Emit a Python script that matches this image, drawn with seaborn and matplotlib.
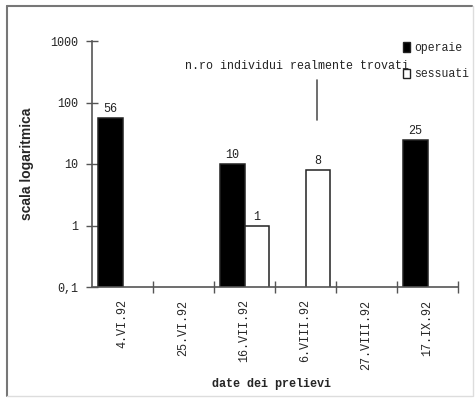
import pandas as pd
import numpy as np
import matplotlib
matplotlib.use("Agg")
import matplotlib.pyplot as plt
from matplotlib.lines import Line2D
from matplotlib.patches import Patch
import seaborn as sns

date = ['4.VI.92', '25.VI.92', '16.VII.92', '6.VIII.92', '27.VIII.92', '17.IX.92']
operaie = [56, np.nan, 10, np.nan, np.nan, 25]
sessuati = [np.nan, np.nan, 1, 8, np.nan, np.nan]
caste = ['operaie', 'sessuati']

sns.set_theme(style="white")
plt.rcParams['font.family'] = ['Liberation Mono', 'DejaVu Sans Mono']

df = pd.DataFrame({'data': date * 2,
                   'casta': ['operaie'] * len(date) + ['sessuati'] * len(date),
                   'n': operaie + sessuati}).dropna()

fig = plt.figure(figsize=(4.75, 3.98), dpi=100)
ax = fig.add_axes([92 / 475, 1 - 287 / 398, 366 / 475, 246 / 398])

sns.barplot(x='data', y='n', hue='casta', data=df, order=date, hue_order=caste,
            palette={'operaie': 'black', 'sessuati': 'white'},
            edgecolor='#222222', linewidth=1.1, width=0.8, ax=ax, legend=False)

ax.set_yscale('log')
ax.set_ylim(0.1, 1000)
ax.set_xlim(-0.5, 5.5)

for c in ax.containers:
    labels = ['%g' % b.get_height() if b.get_height() > 0 else '' for b in c]
    ax.bar_label(c, labels=labels, padding=2, fontsize=8.5, color='#222222')

ax.set_yticks([0.1, 1, 10, 100, 1000])
ax.set_yticklabels(['0,1', '1', '10', '100', '1000'])
ax.yaxis.set_minor_locator(matplotlib.ticker.NullLocator())
ax.tick_params(axis='y', which='major', direction='inout', length=8, width=1,
               color='#555555', labelsize=8.5, pad=6, left=True)

ax.set_xticks(range(len(date)))
ax.set_xticklabels(date, rotation=90, fontsize=8.5)
ax.set_xticks(np.arange(0.5, len(date), 1), minor=True)
ax.tick_params(axis='x', which='major', length=0, pad=9)
ax.tick_params(axis='x', which='minor', direction='inout', length=8, width=1,
               color='#555555', bottom=True)

for s in ['top', 'right']:
    ax.spines[s].set_visible(False)
for s in ['left', 'bottom']:
    ax.spines[s].set_color('#555555')
    ax.spines[s].set_linewidth(1.2)

ax.set_ylabel('scala logaritmica', family='Liberation Sans', fontweight='bold',
              fontsize=10, labelpad=0)
ax.yaxis.set_label_coords(-(92 - 34) / 366, 0.5)
ax.set_xlabel('date dei prelievi', fontweight='bold', fontsize=8.5)
ax.xaxis.set_label_coords(0.49, -(378 - 287) / 246)

fig.text(185 / 475, 1 - 66 / 398, 'n.ro individui realmente trovati',
         fontsize=8.4, va='center', ha='left', color='#222222')
fig.add_artist(Line2D([317 / 475, 317 / 475], [1 - 80 / 398, 1 - 120 / 398],
                      color='#555555', lw=1.2))

handles = [Patch(facecolor='black', edgecolor='#222222'),
           Patch(facecolor='white', edgecolor='#222222')]
fig.legend(handles, caste, loc='upper left', bbox_to_anchor=(403 / 475, 1 - 42 / 398),
           frameon=False, fontsize=8.3, handlelength=0.6, handleheight=0.9,
           handletextpad=0.35, labelspacing=1.25, borderpad=0, borderaxespad=0)

# cornice
fig.add_artist(Line2D([7 / 475, 472 / 475], [1 - 6 / 398, 1 - 6 / 398], color='#777777', lw=1.5))
fig.add_artist(Line2D([7 / 475, 7 / 475], [1 - 6 / 398, 1 - 396 / 398], color='#777777', lw=1.5))
fig.add_artist(Line2D([7 / 475, 472 / 475], [1 - 396 / 398, 1 - 396 / 398], color='#dddddd', lw=1))
fig.add_artist(Line2D([473 / 475, 473 / 475], [1 - 6 / 398, 1 - 396 / 398], color='#dddddd', lw=1))

plt.savefig('out.png', dpi=100)
